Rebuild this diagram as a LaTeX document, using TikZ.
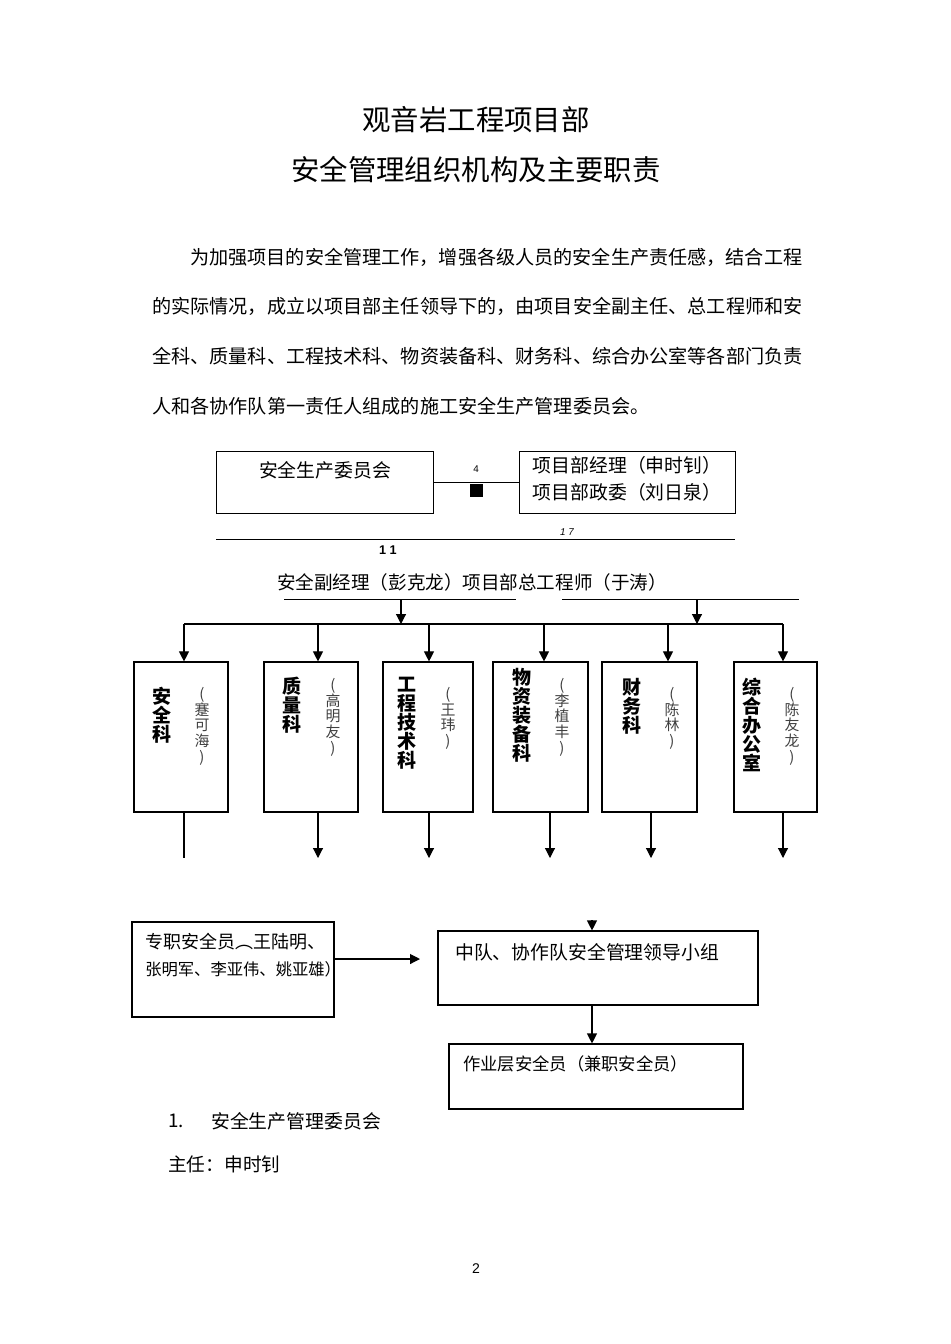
\documentclass[tikz,border=0pt]{standalone}
\usepackage{fontspec}
\setmainfont{Noto Sans CJK SC}
\newfontfamily\latfont{Liberation Sans}
\usetikzlibrary{arrows.meta,calc,positioning}

\begin{document}
\begin{tikzpicture}[x=0.025cm, y=-0.025cm,
  frame/.style={draw, thick, inner sep=0pt},
  arr/.style={thick, -{Triangle[length=2.5mm,width=2.5mm]}},
  bodytxt/.style={anchor=west, inner sep=0pt, font=\fontsize{13.6}{16}\selectfont},
  deptname/.style={anchor=north, inner sep=0pt, align=center, font=\bfseries\fontsize{13.5}{13.5}\selectfont},
  person/.style={anchor=north, inner sep=0pt, align=center, text=black!75, font=\fontsize{10.6}{11.2}\selectfont}]
\useasboundingbox (0,0) rectangle (950,1344);
% --- titolo e testo ---
\node[font=\fontsize{20.2}{24}\selectfont] (tit1) at (476,120) {观音岩工程项目部};
\node[font=\fontsize{20.2}{24}\selectfont] (tit2) at (476,170) {安全管理组织机构及主要职责};
\node[bodytxt] (par1) at (190,257) {为加强项目的安全管理工作，增强各级人员的安全生产责任感，结合工程};
\node[bodytxt] (par2) at (152,306) {的实际情况，成立以项目部主任领导下的，由项目安全副主任、总工程师和安};
\node[bodytxt] (par3) at (152,356) {全科、质量科、工程技术科、物资装备科、财务科、综合办公室等各部门负责};
\node[bodytxt] (par4) at (152,406) {人和各协作队第一责任人组成的施工安全生产管理委员会。};

% --- vertice ---
\node[draw, semithick, minimum width=5.425cm, minimum height=1.55cm] (sac) at (324.5,482) {};
\node[font=\fontsize{13.4}{16}\selectfont] (sactxt) at (325,470) {安全生产委员会};
\node[draw, semithick, minimum width=5.4cm, minimum height=1.55cm] (jl) at (627,482) {};
\node[align=center, font=\fontsize{13.4}{19.2}\selectfont] (jltxt) at (627,478.5) {项目部经理（申时钊）\\项目部政委（刘日泉）};
\draw (sac.east) -- (jl.west);
\node[font=\latfont\fontsize{7}{8}\selectfont] (n4) at (476,469) {4};
\node[fill=black, minimum size=0.325cm, inner sep=0pt] (sq) at (476,490) {};
\coordinate (hl) at (216,539);
\coordinate (hr) at (735,539);
\draw (hl) -- (hr);
\node[font=\latfont\itshape\fontsize{7}{8}\selectfont] (n17) at (567,532) {1 7};
\node[font=\latfont\bfseries\fontsize{9}{10}\selectfont] (n11) at (388,550) {1 1};

% --- vice e ingegnere capo ---
\node[font=\fontsize{13.2}{16}\selectfont] (vice) at (472,582) {安全副经理（彭克龙）项目部总工程师（于涛）};
\coordinate (l1) at (284,599);
\coordinate (l2) at (516,599);
\coordinate (r1) at (562,599);
\coordinate (r2) at (799,599);
\draw (l1) -- (l2);
\draw (r1) -- (r2);
\coordinate (b1) at (184,624);
\coordinate (b2) at (318,624);
\coordinate (b3) at (429,624);
\coordinate (b4) at (544,624);
\coordinate (b5) at (668,624);
\coordinate (b6) at (783,624);
\draw[arr] (401,599) -- (401,624);
\draw[arr] (697,599) -- (697,624);
\draw[line width=1.1pt] (b1) -- (b6);

% --- uffici ---
\node[frame, minimum width=2.35cm, minimum height=3.75cm] (d1) at (181,737) {};
\node[frame, minimum width=2.35cm, minimum height=3.75cm] (d2) at (311,737) {};
\node[frame, minimum width=2.25cm, minimum height=3.75cm] (d3) at (428,737) {};
\node[frame, minimum width=2.375cm, minimum height=3.75cm] (d4) at (540.5,737) {};
\node[frame, minimum width=2.375cm, minimum height=3.75cm] (d5) at (649.5,737) {};
\node[frame, minimum width=2.075cm, minimum height=3.75cm] (d6) at (775.5,737) {};
\foreach \i in {1,...,6} \draw[arr] (b\i) -- (b\i |- d\i.north);

\node[deptname] (k1) at (162,687) {安\\全\\科};
\node[person] (p1) at (202,687) {(\\蹇\\可\\海\\)};
\node[deptname] (k2) at (292,677) {质\\量\\科};
\node[person] (p2) at (333,678) {(\\高\\明\\友\\)};
\node[deptname] (k3) at (407,677) {工\\程\\技\\术\\科};
\node[person] (p3) at (448,687) {(\\王\\玮\\)};
\node[deptname] (k4) at (522,668) {物\\资\\装\\备\\科};
\node[person] (p4) at (562,678) {(\\李\\植\\丰\\)};
\node[deptname] (k5) at (632,678) {财\\务\\科};
\node[person] (p5) at (672,687) {(\\陈\\林\\)};
\node[deptname] (k6) at (752,678) {综\\合\\办\\公\\室};
\node[person] (p6) at (792,687) {(\\陈\\友\\龙\\)};

\coordinate (e1) at (184,858);
\coordinate (e2) at (318,858);
\coordinate (e3) at (429,858);
\coordinate (e4) at (550,858);
\coordinate (e5) at (651,858);
\coordinate (e6) at (783,858);
\draw[thick] (e1 |- d1.south) -- (e1);
\foreach \i in {2,...,6} \draw[arr] (e\i |- d\i.south) -- (e\i);

% --- livello inferiore ---
\node[frame, minimum width=5.05cm, minimum height=2.375cm] (zz) at (233,969.5) {};
\node[anchor=west, inner sep=0pt, font=\fontsize{12.8}{14}\selectfont] (zz1) at (145,942) {专职安全员︵王陆明、};
\node[anchor=west, inner sep=0pt, font=\fontsize{11.6}{14}\selectfont] (zz2) at (145,969) {张明军、李亚伟、姚亚雄）};
\node[frame, minimum width=8cm, minimum height=1.85cm] (zd) at (598,968) {};
\node[anchor=west, inner sep=0pt, font=\fontsize{13.4}{16}\selectfont] (zdtxt) at (455,952) {中队、协作队安全管理领导小组};
\node[frame, minimum width=7.35cm, minimum height=1.625cm] (zy) at (596,1076.5) {};
\node[anchor=west, inner sep=0pt, font=\fontsize{12.3}{14}\selectfont] (zytxt) at (463,1064) {作业层安全员（兼职安全员）};
\coordinate (za) at (420,959);
\draw[arr] (zz.east |- za) -- (za);
\coordinate (tz) at (592,920);
\draw[arr] (tz) -- (tz |- zd.north);
\draw[arr] (tz |- zd.south) -- (tz |- zy.north);

% --- testo finale ---
\node[bodytxt, font=\fontsize{13.4}{16}\selectfont] (it1) at (168,1121) {1.};
\node[bodytxt, font=\fontsize{13.4}{16}\selectfont] (it1txt) at (211,1121) {安全生产管理委员会};
\node[bodytxt, font=\fontsize{13.3}{16}\selectfont] (zr) at (168,1164) {主任：申时钊};
\node[font=\latfont\fontsize{10}{12}\selectfont] (pg) at (476,1269) {2};
\end{tikzpicture}
\end{document}
